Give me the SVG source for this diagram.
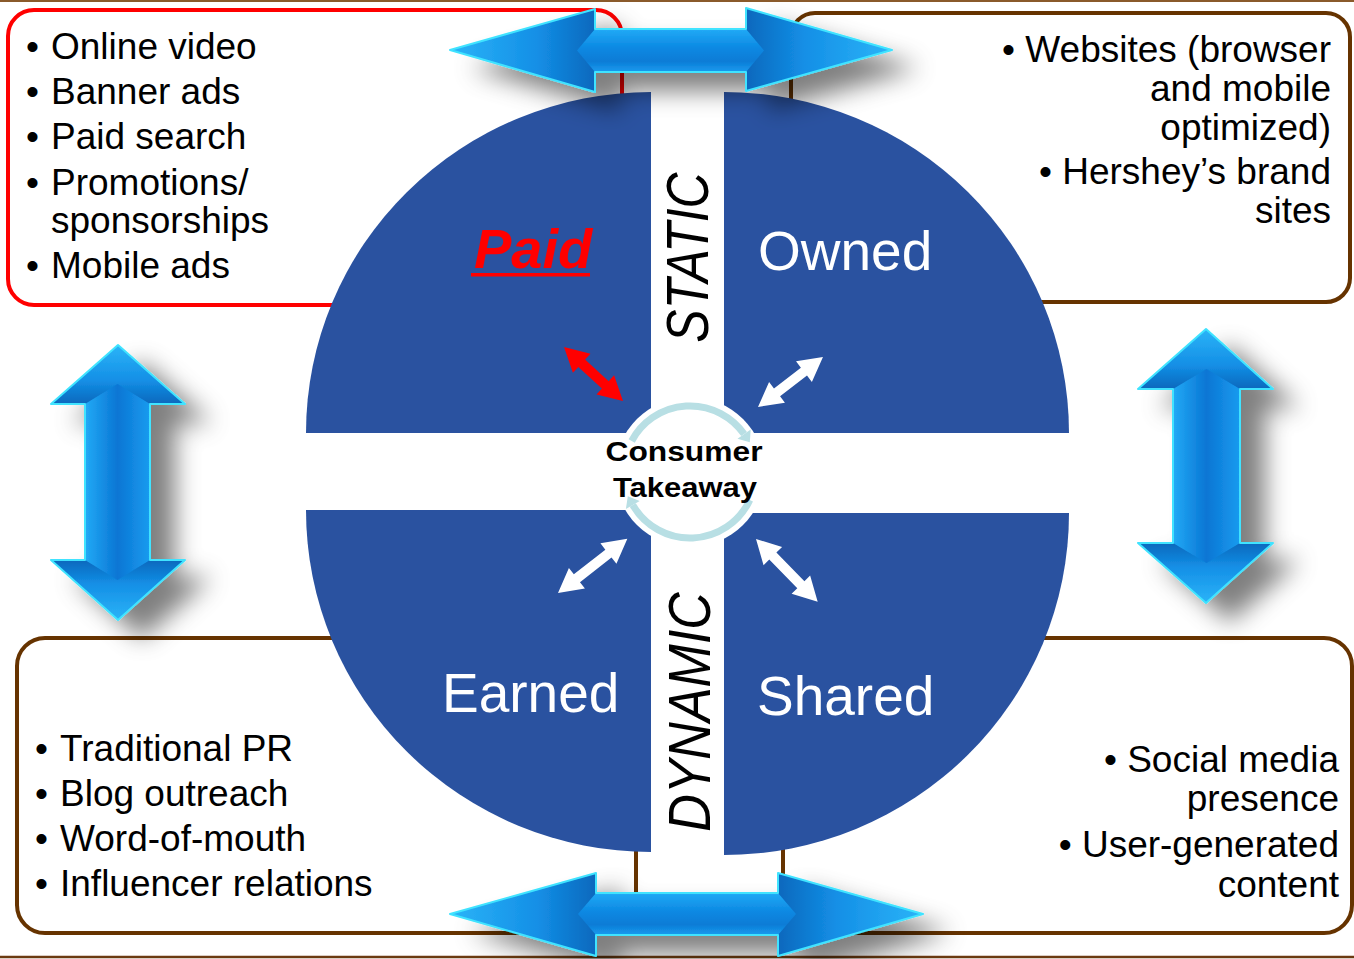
<svg xmlns="http://www.w3.org/2000/svg" width="1354" height="959" viewBox="0 0 1354 959">
  <defs>
    <style>
      .txt { font-family: "Liberation Sans", Arial, sans-serif; font-size: 37px; fill: #000; }
      .quad { fill: #2a52a0; }
      .qlabel { font-family: "Liberation Sans", Arial, sans-serif; font-size: 55px; fill: #fff; }
      .band { font-family: "Liberation Sans", Arial, sans-serif; font-style: italic; fill: #000; }
      .box { fill: #fff; stroke-width: 4; }
      .brown { stroke: #663300; }
      .outline { fill: none; stroke: #3fe3ff; stroke-width: 2; stroke-linejoin: round; }
      .small { fill: #fff; }
    </style>
    <linearGradient id="shaftH" x1="0" y1="0" x2="0" y2="1">
      <stop offset="0" stop-color="#22aaf6"/>
      <stop offset="0.45" stop-color="#0b88e2"/>
      <stop offset="0.75" stop-color="#0a7cd6"/>
      <stop offset="1" stop-color="#1a9bef"/>
    </linearGradient>
    <linearGradient id="shaftV" x1="0" y1="0" x2="1" y2="0">
      <stop offset="0" stop-color="#22aaf6"/>
      <stop offset="0.5" stop-color="#0a76d4"/>
      <stop offset="1" stop-color="#1a9bef"/>
    </linearGradient>
    <linearGradient id="headL" x1="0" y1="0" x2="1" y2="0">
      <stop offset="0" stop-color="#2bb4f8"/>
      <stop offset="0.6" stop-color="#148fe6"/>
      <stop offset="1" stop-color="#0868bd"/>
    </linearGradient>
    <linearGradient id="headR" x1="1" y1="0" x2="0" y2="0">
      <stop offset="0" stop-color="#2bb4f8"/>
      <stop offset="0.6" stop-color="#148fe6"/>
      <stop offset="1" stop-color="#0868bd"/>
    </linearGradient>
    <linearGradient id="headU" x1="0" y1="0" x2="0" y2="1">
      <stop offset="0" stop-color="#2bb4f8"/>
      <stop offset="0.6" stop-color="#148fe6"/>
      <stop offset="1" stop-color="#0868bd"/>
    </linearGradient>
    <linearGradient id="headD" x1="0" y1="1" x2="0" y2="0">
      <stop offset="0" stop-color="#2bb4f8"/>
      <stop offset="0.6" stop-color="#148fe6"/>
      <stop offset="1" stop-color="#0868bd"/>
    </linearGradient>
    <filter id="shadow" x="-30%" y="-30%" width="175%" height="175%">
      <feGaussianBlur in="SourceAlpha" stdDeviation="12"/>
      <feOffset dx="24" dy="18" result="b"/>
      <feFlood flood-color="#000" flood-opacity="0.5"/>
      <feComposite in2="b" operator="in"/>
      <feMerge><feMergeNode/><feMergeNode in="SourceGraphic"/></feMerge>
    </filter>
  </defs>

  <rect width="1354" height="959" fill="#fff"/>
  <!-- page rules -->
  <line x1="0" y1="1" x2="1354" y2="1" stroke="#8a5a2b" stroke-width="2"/>
  <line x1="0" y1="957" x2="1354" y2="957" stroke="#6b3a10" stroke-width="2.5"/>

  <!-- channel boxes -->
  <g id="paid-box">
    <rect class="box" x="8" y="10" width="614" height="295" rx="26" stroke="#ff0000"/>
    <g class="txt">
      <text x="26" y="59">•</text><text x="51" y="59">Online video</text>
      <text x="26" y="104">•</text><text x="51" y="104">Banner ads</text>
      <text x="26" y="149">•</text><text x="51" y="149">Paid search</text>
      <text x="26" y="195">•</text><text x="51" y="195">Promotions/</text>
      <text x="51" y="233">sponsorships</text>
      <text x="26" y="278">•</text><text x="51" y="278">Mobile ads</text>
    </g>
  </g>
  <g id="owned-box">
    <rect class="box brown" x="791" y="13" width="559" height="289" rx="24"/>
    <g class="txt" text-anchor="end">
      <text x="1331" y="62">• Websites (browser</text>
      <text x="1331" y="101">and mobile</text>
      <text x="1331" y="140">optimized)</text>
      <text x="1331" y="184">• Hershey’s brand</text>
      <text x="1331" y="223">sites</text>
    </g>
  </g>
  <g id="earned-box">
    <rect class="box brown" x="17" y="638" width="619" height="295" rx="28"/>
    <g class="txt">
      <text x="35" y="761">•</text><text x="60" y="761">Traditional PR</text>
      <text x="35" y="806">•</text><text x="60" y="806">Blog outreach</text>
      <text x="35" y="851">•</text><text x="60" y="851">Word-of-mouth</text>
      <text x="35" y="896">•</text><text x="60" y="896">Influencer relations</text>
    </g>
  </g>
  <g id="shared-box">
    <rect class="box brown" x="783" y="638" width="569" height="295" rx="28"/>
    <g class="txt" text-anchor="end">
      <text x="1339" y="772">• Social media</text>
      <text x="1339" y="811">presence</text>
      <text x="1339" y="857">• User-generated</text>
      <text x="1339" y="897">content</text>
    </g>
  </g>

  <!-- quadrants -->
  <g id="quadrant-paid">
    <path class="quad" d="M651,433 L306,433 A345,341 0 0 1 651,92 Z"/>
    <text x="474" y="268" font-family="Liberation Sans, Arial, sans-serif" font-size="56" font-weight="bold" font-style="italic" fill="#ff0000">Paid</text>
    <rect x="471" y="273" width="119" height="3.5" fill="#ff0000"/>
  </g>
  <g id="quadrant-owned">
    <path class="quad" d="M724,433 L724,92 A345,341 0 0 1 1069,433 Z"/>
    <text class="qlabel" x="758" y="270">Owned</text>
  </g>
  <g id="quadrant-earned">
    <path class="quad" d="M651,510 L651,852 A345,342 0 0 1 306,510 Z"/>
    <text class="qlabel" x="442" y="712">Earned</text>
  </g>
  <g id="quadrant-shared">
    <path class="quad" d="M724,513 L1069,513 A345,342 0 0 1 724,855 Z"/>
    <text class="qlabel" x="757" y="715">Shared</text>
  </g>

  <!-- band labels -->
  <g id="label-static">
    <text class="band" font-size="50" text-anchor="middle" transform="translate(708,257.5) rotate(-90) scale(1,1.2)">STATIC</text>
  </g>
  <g id="label-dynamic">
    <text class="band" font-size="52" text-anchor="middle" transform="translate(710,712) rotate(-90) scale(1,1.13)">DYNAMIC</text>
  </g>

  <!-- hub -->
  <g id="hub">
    <circle cx="690" cy="472" r="75" fill="#fff"/>
    <g fill="none" stroke="#b8dfe4" stroke-width="7">
      <path d="M631.7,441 A66,66 0 0 1 744.1,434.1"/>
      <path d="M749.8,499.9 A66,66 0 0 1 632.8,505"/>
    </g>
    <g fill="#b8dfe4">
      <path d="M750.7,429.5 L737.5,438.7 L749.8,442.3 Z"/>
      <path d="M625.9,509 L639.7,501 L627.8,496.3 Z"/>
    </g>
    <g font-family="Liberation Sans, Arial, sans-serif" font-weight="bold" font-size="28" fill="#000" text-anchor="middle">
      <text x="684" y="461" textLength="157" lengthAdjust="spacingAndGlyphs">Consumer</text>
      <text x="685" y="497" textLength="144" lengthAdjust="spacingAndGlyphs">Takeaway</text>
    </g>
  </g>

  <!-- connectors -->
  <g id="connectors">
    <g id="arrow-top" filter="url(#shadow)">
      <path d="M450,50 L595,9 L595,92 Z" fill="url(#headL)"/>
      <path d="M892,50 L746,8 L746,91 Z" fill="url(#headR)"/>
      <path d="M577,50.5 L595,29 L746,29 L764,50.5 L746,72 L595,72 Z" fill="url(#shaftH)"/>
      <path class="outline" d="M450,50 L595,9 L595,29 L746,29 L746,8 L892,50 L746,91 L746,72 L595,72 L595,92 Z"/>
    </g>
    <g id="arrow-bottom" filter="url(#shadow)">
      <path d="M450,914 L596,873 L596,956 Z" fill="url(#headL)"/>
      <path d="M923,914 L778,873 L778,956 Z" fill="url(#headR)"/>
      <path d="M578,914 L596,893 L778,893 L796,914 L778,935 L596,935 Z" fill="url(#shaftH)"/>
      <path class="outline" d="M450,914 L596,873 L596,893 L778,893 L778,873 L923,914 L778,956 L778,935 L596,935 L596,956 Z"/>
    </g>
    <g id="arrow-left" filter="url(#shadow)">
      <path d="M118,345 L185,404 L51,404 Z" fill="url(#headU)"/>
      <path d="M118,620 L185,560 L51,560 Z" fill="url(#headD)"/>
      <path d="M117.5,384 L150,404 L150,560 L117.5,580 L85,560 L85,404 Z" fill="url(#shaftV)"/>
      <path class="outline" d="M118,345 L185,404 L150,404 L150,560 L185,560 L118,620 L51,560 L85,560 L85,404 L51,404 Z"/>
    </g>
    <g id="arrow-right" filter="url(#shadow)">
      <path d="M1206,329 L1273,389 L1138,389 Z" fill="url(#headU)"/>
      <path d="M1206,603 L1273,543 L1138,543 Z" fill="url(#headD)"/>
      <path d="M1206.5,369 L1240,389 L1240,543 L1206.5,563 L1173,543 L1173,389 Z" fill="url(#shaftV)"/>
      <path class="outline" d="M1206,329 L1273,389 L1240,389 L1240,543 L1273,543 L1206,603 L1138,543 L1173,543 L1173,389 L1138,389 Z"/>
    </g>
    <!-- hub links -->
    <path fill="#ff0000" transform="translate(564,347) rotate(42.5)" d="M0,0 L24,-13 L24,-5 L56,-5 L56,-13 L80,0 L56,13 L56,5 L24,5 L24,13 Z"/>
    <path class="small" transform="translate(758,407) rotate(-37.6)" d="M0,0 L24,-13 L24,-5 L58,-5 L58,-13 L82,0 L58,13 L58,5 L24,5 L24,13 Z"/>
    <path class="small" transform="translate(558,593) rotate(-38)" d="M0,0 L24,-13 L24,-5 L64,-5 L64,-13 L88,0 L64,13 L64,5 L24,5 L24,13 Z"/>
    <path class="small" transform="translate(756,539) rotate(45.5)" d="M0,0 L24,-13 L24,-5 L64,-5 L64,-13 L88,0 L64,13 L64,5 L24,5 L24,13 Z"/>
  </g>
</svg>
